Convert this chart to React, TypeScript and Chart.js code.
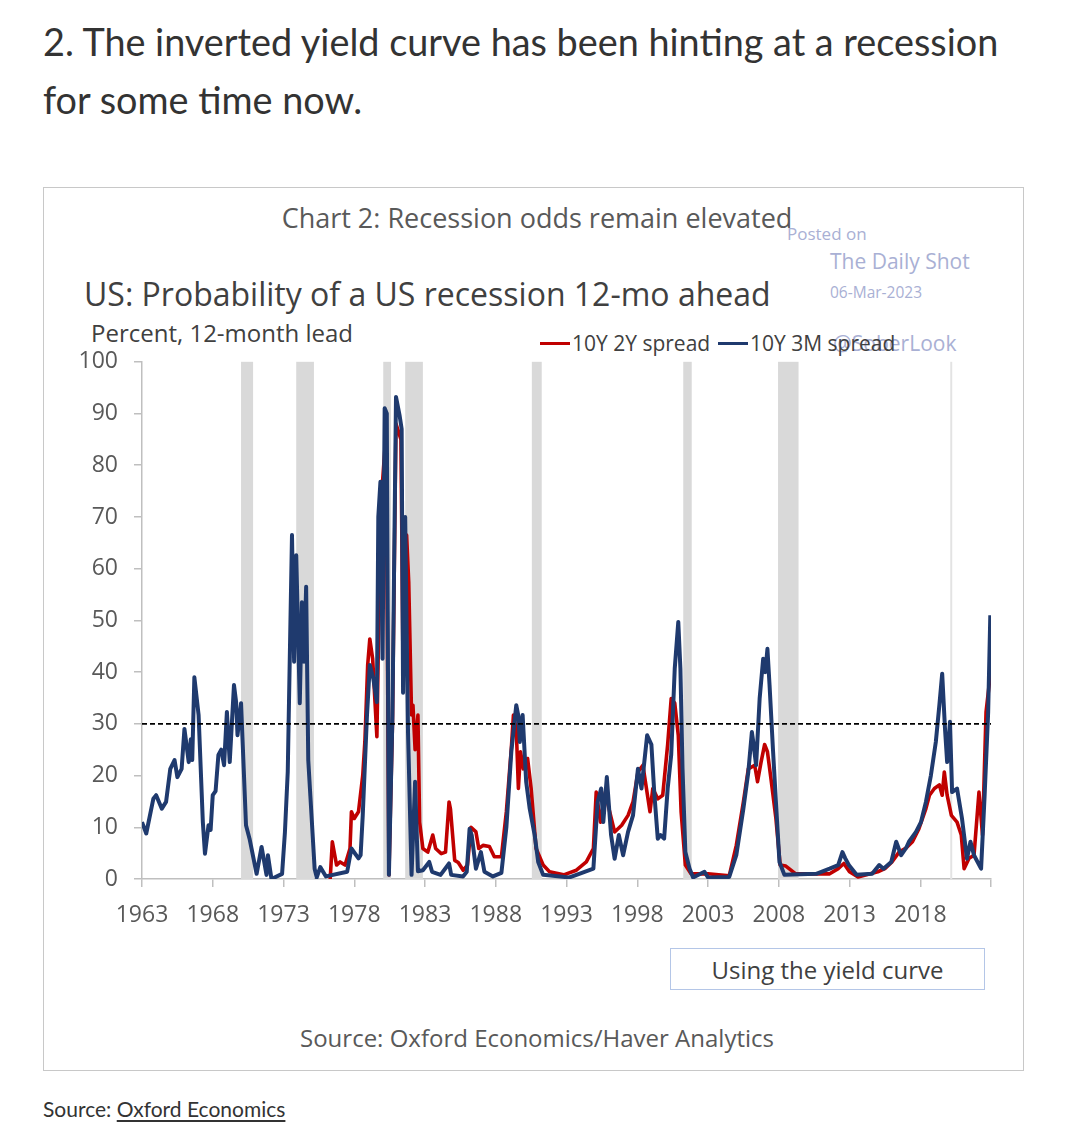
import React, { useEffect, useRef } from "react";
import { Chart, registerables } from "chart.js";

Chart.register(...registerables);

// ---- Data ----
const tickYears = [1963, 1968, 1973, 1978, 1983, 1988, 1993, 1998, 2003, 2008, 2013, 2018, 2023];

const recessionStarts = [1970.0, 1973.9, 1980.05, 1981.6, 1990.55, 2001.25, 2007.95, 2020.12];
const recessionEnds = [1970.85, 1975.15, 1980.6, 1982.85, 1991.25, 2001.85, 2009.4, 2020.26];

const thresholdValue = 30;

// 10Y 3M spread (blue)
const spread3mYears = [
  1963.0, 1963.3, 1963.8, 1964.0, 1964.4, 1964.7, 1965.0, 1965.3, 1965.5, 1965.8,
  1966.0, 1966.3, 1966.45, 1966.55, 1966.7, 1967.0, 1967.3, 1967.45, 1967.7, 1967.85,
  1968.0, 1968.2, 1968.4, 1968.6, 1968.8, 1969.0, 1969.2, 1969.5, 1969.65, 1969.75,
  1970.0, 1970.35, 1970.6, 1971.1, 1971.45, 1971.8, 1971.9, 1972.15, 1972.9, 1973.1,
  1973.3, 1973.6, 1973.75, 1973.9, 1974.15, 1974.3, 1974.45, 1974.6, 1974.75, 1974.9,
  1975.2, 1975.35, 1975.6, 1976.0, 1977.5, 1977.8, 1978.3, 1978.45, 1978.6, 1978.9,
  1979.1, 1979.35, 1979.6, 1979.7, 1979.85, 1980.0, 1980.15, 1980.3, 1980.45, 1980.7,
  1980.95, 1981.2, 1981.35, 1981.45, 1981.6, 1981.8, 1982.05, 1982.3, 1982.5, 1982.85,
  1983.3, 1983.5, 1984.1, 1984.7, 1984.85, 1985.7, 1985.95, 1986.15, 1986.3, 1986.6,
  1986.95, 1987.2, 1987.8, 1988.4, 1988.75, 1989.1, 1989.45, 1989.6, 1989.7, 1989.9,
  1990.15, 1990.4, 1990.75, 1991.0, 1991.35, 1993.2, 1993.9, 1994.9, 1995.2, 1995.45,
  1995.6, 1995.85, 1996.15, 1996.4, 1996.7, 1997.0, 1997.35, 1997.7, 1998.05, 1998.3,
  1998.7, 1999.0, 1999.2, 1999.45, 1999.65, 1999.9, 2000.15, 2000.4, 2000.65, 2000.9,
  2001.05, 2001.2, 2001.4, 2001.7, 2001.95, 2002.75, 2003.0, 2004.5, 2005.0, 2005.5,
  2005.85, 2006.1, 2006.2, 2006.4, 2006.65, 2006.9, 2007.05, 2007.2, 2007.35, 2007.6,
  2007.8, 2008.05, 2008.4, 2010.65, 2011.6, 2012.2, 2012.5, 2012.7, 2012.95, 2013.5,
  2014.6, 2015.1, 2015.4, 2015.95, 2016.3, 2016.65, 2017.0, 2017.2, 2017.7, 2018.05,
  2018.4, 2018.75, 2019.1, 2019.35, 2019.55, 2019.75, 2019.9, 2020.1, 2020.25, 2020.6,
  2020.95, 2021.3, 2021.55, 2021.8, 2022.3, 2022.55, 2022.8, 2022.95,
];
const spread3mValues = [
  11, 8.8, 15.5, 16.2, 13.6, 14.9, 21.3, 23, 19.7, 21.3,
  29, 22.6, 27, 23, 39, 31.7, 11, 4.9, 10.4, 9.5,
  16.2, 17, 24, 25, 22, 32.3, 22.6, 37.5, 34.2, 27.8,
  34, 10.4, 7.8, 1, 6.2, 0.8, 4.6, 0, 1, 9,
  20.7, 66.5, 42, 62.6, 34, 53.5, 42, 56.5, 23, 16,
  2, 0.3, 2.3, 0.5, 1.4, 5.9, 4, 4.6, 12.3, 31.7,
  41.4, 38.7, 34.2, 70, 76.8, 42.6, 91, 90, 0.8, 31.7,
  93.2, 89.7, 87, 36, 70, 28.4, 0.8, 18.8, 1.5, 1.7,
  3.3, 1.4, 0.8, 3, 0.8, 0.5, 1.4, 9.7, 8.5, 2,
  5.2, 1.4, 0.5, 1.2, 10, 24.6, 33.6, 31.5, 26.5, 31.7,
  18.8, 13.6, 8.5, 3.3, 0.8, 0.3, 1, 2, 14.9, 17.5,
  11, 19.7, 8.5, 3.9, 8.5, 4.6, 9.1, 12.3, 21.3, 17.5,
  27.8, 26, 16.8, 7.8, 8.5, 7.8, 17.5, 24, 40.7, 49.7,
  40.7, 21.3, 5.2, 2, 0.3, 1.4, 0.3, 0.4, 4.6, 13.6,
  20.7, 28.4, 26.5, 22, 34.9, 42.6, 40, 44.5, 37.5, 24.6,
  14.9, 3.3, 0.8, 1, 2, 2.7, 5.2, 4, 2.7, 0.8,
  1, 2.7, 2, 3.3, 7.2, 4.6, 6, 7.2, 9.1, 11,
  14.9, 20, 26.5, 33.6, 39.7, 29, 22.6, 30.4, 16.8, 17.5,
  11.7, 3.9, 7.2, 4.6, 2, 16.2, 32.3, 51,
];

// 10Y 2Y spread (red)
const spread2yYears = [
  1976.3, 1976.45, 1976.75, 1977.0, 1977.35, 1977.7, 1977.8, 1978.0, 1978.3, 1978.6,
  1978.75, 1978.95, 1979.1, 1979.3, 1979.6, 1979.8, 1980.0, 1980.25, 1980.45, 1980.7,
  1980.95, 1981.3, 1981.45, 1981.7, 1981.85, 1982.05, 1982.15, 1982.3, 1982.5, 1982.62,
  1982.85, 1983.2, 1983.55, 1983.75, 1984.15, 1984.45, 1984.7, 1984.8, 1985.1, 1985.35,
  1985.7, 1986.0, 1986.25, 1986.6, 1986.8, 1987.1, 1987.55, 1987.9, 1988.4, 1988.75,
  1989.1, 1989.25, 1989.45, 1989.6, 1989.75, 1989.95, 1990.25, 1990.5, 1990.85, 1991.35,
  1991.8, 1992.8, 1993.7, 1994.4, 1994.9, 1995.1, 1995.4, 1995.75, 1996.0, 1996.4,
  1996.9, 1997.35, 1997.7, 1998.05, 1998.4, 1998.9, 1999.1, 1999.45, 1999.8, 2000.15,
  2000.4, 2000.65, 2000.9, 2001.1, 2001.4, 2001.8, 2003.0, 2004.5, 2005.0, 2005.5,
  2005.85, 2006.3, 2006.5, 2006.75, 2007.0, 2007.2, 2007.45, 2007.8, 2008.1, 2008.5,
  2009.2, 2011.6, 2012.2, 2012.6, 2013.0, 2013.6, 2015.0, 2015.5, 2016.0, 2016.5,
  2017.0, 2017.45, 2017.9, 2018.4, 2018.65, 2019.0, 2019.35, 2019.55, 2019.7, 2019.9,
  2020.2, 2020.6, 2020.9, 2021.1, 2021.45, 2021.8, 2022.15, 2022.4, 2022.65, 2023.0,
];
const spread2yValues = [
  0, 7.2, 2.7, 3.3, 2.7, 5.9, 13, 11.7, 13, 20,
  26.5, 41.4, 46.4, 42.6, 27.5, 61, 76.8, 86.5, 0.8, 30,
  88, 85, 40, 66.5, 57.4, 31.7, 33.6, 25, 31.7, 11,
  5.9, 5.2, 8.5, 5.9, 4.9, 5.2, 14.9, 13.5, 3.6, 3.2,
  1.7, 2.7, 10, 9.1, 5.9, 6.5, 6.3, 4.3, 4.3, 13,
  25.2, 31.7, 29, 17.5, 24.6, 21.3, 23.3, 17.5, 5.9, 2.7,
  1.4, 0.8, 1.7, 3.3, 5.9, 16.8, 11, 16.8, 13.6, 9.1,
  10.4, 12.3, 14.9, 20.7, 22, 13, 17.5, 15.5, 16.2, 26,
  34.9, 34, 27.8, 13, 2.7, 1, 1, 0.6, 6.5, 14.9,
  21.3, 22, 18.8, 22.6, 26, 24.6, 19.4, 11.7, 2.7, 2.5,
  1, 1, 2, 3, 1.4, 0.4, 1.4, 2, 3.3, 5.2,
  6, 7.2, 9.7, 13.6, 16.2, 17.5, 18.2, 16.2, 20.7, 16.2,
  12.3, 11, 8.5, 2, 4, 4.6, 16.8, 8.5, 32.3, 40.7,
];

const TEXT = "#404040";
const AXIS_TEXT = "#595959";
const WATERMARK = "#a9b0d4";
const FONT = "'Open Sans', 'Noto Sans', sans-serif";

const recessionPlugin = {
  id: "recessionBands",
  beforeDatasetsDraw(chart: any) {
    const { ctx, chartArea, scales } = chart;
    const xs = scales.x;
    ctx.save();
    recessionStarts.forEach((s, i) => {
      const x0 = xs.getPixelForValue(s);
      const x1 = xs.getPixelForValue(recessionEnds[i]);
      ctx.fillStyle = i === recessionStarts.length - 1 ? "#e3e3e3" : "#d9d9d9";
      ctx.fillRect(x0, chartArea.top, Math.max(1.5, x1 - x0), chartArea.bottom - chartArea.top);
    });
    ctx.restore();
  },
};

function Txt(props: {
  x: number;
  cy: number;
  size: number;
  color?: string;
  family?: string;
  center?: boolean;
  children: React.ReactNode;
}) {
  const { x, cy, size, color = TEXT, family = FONT, center = false, children } = props;
  const lh = Math.round(size * 1.4);
  return (
    <div
      style={{
        position: "absolute",
        left: x,
        top: cy - lh / 2,
        fontSize: size,
        lineHeight: lh + "px",
        color,
        fontFamily: family,
        whiteSpace: "nowrap",
        transform: center ? "translateX(-50%)" : undefined,
      }}
    >
      {children}
    </div>
  );
}

export default function App() {
  const canvasRef = useRef<HTMLCanvasElement | null>(null);

  useEffect(() => {
    if (!canvasRef.current) return;
    Chart.defaults.font.family = FONT;
    const blue = spread3mYears.map((x, i) => ({ x, y: spread3mValues[i] }));
    const red = spread2yYears.map((x, i) => ({ x, y: spread2yValues[i] }));
    const threshold = [
      { x: tickYears[0], y: thresholdValue },
      { x: tickYears[tickYears.length - 1], y: thresholdValue },
    ];
    const chart = new Chart(canvasRef.current, {
      type: "line",
      data: {
        datasets: [
          {
            label: "threshold",
            data: threshold,
            borderColor: "#000000",
            borderWidth: 1.6,
            borderDash: [5, 3],
            pointRadius: 0,
            order: 0,
          },
          {
            label: "10Y 3M spread",
            data: blue,
            borderColor: "#1f3a6e",
            borderWidth: 4,
            pointRadius: 0,
            tension: 0,
            borderJoinStyle: "round",
            order: 1,
          },
          {
            label: "10Y 2Y spread",
            data: red,
            borderColor: "#c00000",
            borderWidth: 3.6,
            pointRadius: 0,
            tension: 0,
            borderJoinStyle: "round",
            order: 2,
          },
        ],
      },
      options: {
        animation: false,
        responsive: false,
        maintainAspectRatio: false,
        layout: { padding: { top: 20, right: 19, left: 0, bottom: 0 } },
        plugins: {
          legend: { display: false },
          tooltip: { enabled: false },
          title: { display: false },
        },
        scales: {
          x: {
            type: "linear",
            min: tickYears[0],
            max: tickYears[tickYears.length - 1],
            afterBuildTicks: (scale: any) => {
              scale.ticks = tickYears.map((v) => ({ value: v }));
            },
            afterFit: (scale: any) => {
              scale.height = 53;
            },
            grid: {
              display: true,
              drawOnChartArea: false,
              drawTicks: true,
              tickLength: 8,
              color: "#bfbfbf",
              lineWidth: 1.5,
            },
            border: { display: true, color: "#bfbfbf", width: 1.5 },
            ticks: {
              autoSkip: false,
              maxRotation: 0,
              padding: 15,
              color: AXIS_TEXT,
              font: { size: 23 },
              callback: (v: any) => (v === tickYears[tickYears.length - 1] ? "" : String(v)),
            },
          },
          y: {
            min: 0,
            max: 100,
            afterFit: (scale: any) => {
              scale.width = 82;
            },
            grid: {
              display: true,
              drawOnChartArea: false,
              drawTicks: true,
              tickLength: 8,
              color: "#bfbfbf",
              lineWidth: 1.5,
            },
            border: { display: true, color: "#bfbfbf", width: 1.5 },
            ticks: {
              stepSize: 10,
              padding: 16,
              color: AXIS_TEXT,
              font: { size: 23 },
            },
          },
        },
      },
      plugins: [recessionPlugin],
    } as any);
    return () => chart.destroy();
  }, []);

  return (
    <div
      style={{
        position: "absolute",
        left: 0,
        top: 0,
        width: 1070,
        height: 1146,
        background: "#ffffff",
        overflow: "hidden",
      }}
    >
      <div
        style={{
          position: "absolute",
          left: 43,
          top: 13,
          width: 1020,
          fontFamily: "Lato, sans-serif",
          fontSize: 37.8,
          lineHeight: "58px",
          color: "#333333",
          whiteSpace: "nowrap",
        }}
      >
        2. The inverted yield curve has been hinting at a recession
        <br />
        for some time now.
      </div>

      <div
        style={{
          position: "absolute",
          left: 43,
          top: 187,
          width: 981,
          height: 884,
          boxSizing: "border-box",
          border: "1.5px solid #c8c8c8",
        }}
      />

      <Txt x={537} cy={218} size={27} color={AXIS_TEXT} center>
        Chart 2: Recession odds remain elevated
      </Txt>
      <Txt x={787} cy={234} size={17} color={WATERMARK}>
        Posted on
      </Txt>
      <Txt x={830} cy={261} size={21} color={WATERMARK}>
        The Daily Shot
      </Txt>
      <Txt x={830} cy={292} size={15.5} color={WATERMARK}>
        06-Mar-2023
      </Txt>
      <Txt x={84} cy={293} size={32} color={TEXT}>
        US: Probability of a US recession 12-mo ahead
      </Txt>
      <Txt x={91} cy={333} size={24} color={TEXT}>
        Percent, 12-month lead
      </Txt>

      <Txt x={833} cy={343} size={21} color={WATERMARK}>
        @SoberLook
      </Txt>
      <div style={{ position: "absolute", left: 540, top: 341.5, width: 30, height: 3, background: "#c00000" }} />
      <Txt x={572} cy={343} size={21} color={TEXT}>
        10Y 2Y spread
      </Txt>
      <div style={{ position: "absolute", left: 718, top: 341.5, width: 30, height: 3, background: "#1f3a6e" }} />
      <Txt x={750} cy={343} size={21} color={TEXT}>
        10Y 3M spread
      </Txt>

      <canvas
        ref={canvasRef}
        width={950}
        height={600}
        style={{ position: "absolute", left: 60, top: 332, width: 950, height: 600 }}
      />

      <div
        style={{
          position: "absolute",
          left: 670,
          top: 948,
          width: 315,
          height: 42,
          boxSizing: "border-box",
          border: "1.5px solid #b4c6e7",
          display: "flex",
          alignItems: "center",
          justifyContent: "center",
          fontFamily: FONT,
          fontSize: 24,
          color: TEXT,
        }}
      >
        Using the yield curve
      </div>

      <Txt x={537} cy={1038} size={24} color={AXIS_TEXT} center>
        Source: Oxford Economics/Haver Analytics
      </Txt>

      <Txt x={43} cy={1108} size={21} color="#333333" family="Lato, sans-serif">
        Source:{" "}
        <span style={{ textDecoration: "underline", textDecorationThickness: "2px", textUnderlineOffset: "3px" }}>
          Oxford Economics
        </span>
      </Txt>
    </div>
  );
}
